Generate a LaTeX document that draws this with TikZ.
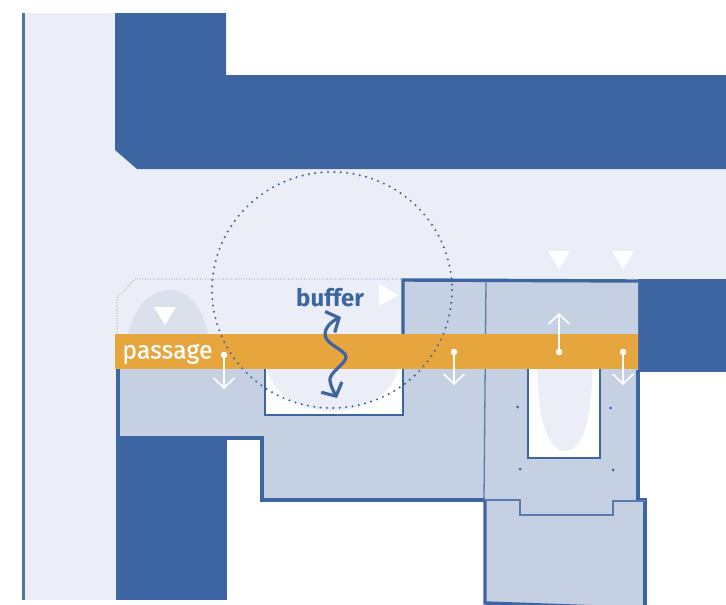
\documentclass[tikz,border=0pt]{standalone}
\usepackage{fontspec}
\setmainfont{Fira Sans}
\newfontfamily\planfont[FakeBold=0.35]{Fira Sans}
\usetikzlibrary{arrows.meta}
\definecolor{planblue}{RGB}{60,101,162}
\definecolor{planpale}{RGB}{235,238,247}
\definecolor{planmid}{RGB}{197,208,226}
\definecolor{planhump}{RGB}{218,225,236}
\definecolor{planorange}{RGB}{230,165,61}
\tikzset{
  street/.style={fill=planpale, draw=none},
  block/.style={fill=planblue, draw=none},
  house/.style={fill=planmid, draw=none},
  court/.style={fill=white, draw=planblue, line width=1.3pt},
  wall/.style={draw=planblue, line width=3.4pt, line join=miter},
  thinwall/.style={draw=planblue!85, line width=1.3pt},
  plot/.style={draw=planblue, line width=0.8pt, dash pattern=on 0pt off 2.6pt, line cap=round},
  reach/.style={draw=planblue, line width=2.3pt, dash pattern=on 0pt off 6.4pt, line cap=round},
  tinydot/.style={circle, fill=planblue, inner sep=0pt, minimum size=3pt},
  whitedot/.style={circle, fill=white, inner sep=0pt, minimum size=6.5pt},
  marker/.style={fill=white, draw=none},
  flow/.style={white, line width=1.6pt, -{Straight Barb[length=10pt, width=21pt, line width=1.6pt]}},
  wobble/.style={planblue, line width=3.2pt, {Straight Barb[length=10pt, width=23pt]}-{Straight Barb[length=10pt, width=23pt]}},
}
\begin{document}
\begin{tikzpicture}[x=1pt, y=-1pt]
  \useasboundingbox (0,0) rectangle (726,605);
  % street and solid blocks
  \fill[street] (23,13) -- (115,13) -- (115,150) -- (137,169) -- (726,169) -- (726,279) -- (403,279)
     -- (403,369) -- (116,369) -- (116,600) -- (23,600) -- cycle;
  \draw[draw=planblue!90, line width=3pt] (23,13) -- (23,600);
  \fill[block] (115,13) -- (226,13) -- (226,75) -- (726,75) -- (726,169) -- (137,169) -- (115,150) -- cycle;
  \fill[block] (638,279) -- (726,279) -- (726,372) -- (638,372) -- cycle;
  \fill[block] (116,437) -- (227,437) -- (227,600) -- (116,600) -- cycle;
  % house
  \fill[house] (118,369) -- (118,437) -- (262,437) -- (262,500) -- (485,500) -- (485,605) -- (645,605)
     -- (645,500) -- (638,500) -- (638,281) -- (403,280) -- (403,369) -- cycle;
  \fill[planhump] (128,334) .. controls (136,304) and (152,290) .. (170,290)
     .. controls (188,290) and (202,306) .. (208,334) -- cycle;
  \draw[court] (265,369) -- (265,415) -- (403,415) -- (403,369);
  \fill[planpale] (267,369) .. controls (274,398) and (305,411) .. (332,411)
     .. controls (362,411) and (392,396) .. (398,369) -- cycle;
  \draw[court] (528,369) -- (528,458) -- (600,458) -- (600,369);
  \fill[white] (529,369) rectangle (599,457);
  \fill[planpale] (537,369) .. controls (538,420) and (548,451) .. (565,451)
     .. controls (582,451) and (592,420) .. (592,369) -- cycle;
  % walls
  \draw[wall] (403,335) -- (403,280) -- (638,281);
  \draw[wall] (118,369) -- (118,438) -- (262,438) -- (262,500) -- (485,500);
  \draw[wall] (638,370) -- (638,500) -- (645,500) -- (645,605);
  \draw[wall] (485,500) -- (485,603) -- (600,607);
  \draw[thinwall] (486,281) -- (484,500);
  \draw[thinwall] (485,500) -- (520,500) -- (520,515) -- (613,515) -- (613,501) -- (645,501);
  \draw[plot] (117,334) -- (117,298) -- (135,279) -- (403,279);
  \node[tinydot] (p1) at (517.5,407) {};
  \node[tinydot] (p2) at (610.5,408) {};
  \node[tinydot] (p3) at (520,469) {};
  \node[tinydot] (p4) at (613,470) {};
  % passage
  \fill[planorange] (115,334) rectangle (638,369);
  \node[anchor=base west, white, font=\planfont\fontsize{25}{25}\selectfont, inner sep=0pt] (passage) at (122,358.5) {passage};
  \draw[reach] (332,290) ellipse (120 and 118);
  \node[anchor=base west, planblue, font=\fontsize{24}{24}\selectfont\bfseries, inner sep=0pt] (buffer) at (296,306) {buffer};
  % markers
  \fill[marker] (154,307) -- (176,307) -- (165,325) -- cycle;
  \fill[marker] (379,284) -- (398,295) -- (379,306) -- cycle;
  \fill[marker] (548,251) -- (570,251) -- (559,269) -- cycle;
  \fill[marker] (612,251) -- (634,251) -- (623,269) -- cycle;
  % flows
  \node[whitedot] (d1) at (224,355) {};
  \node[whitedot] (d2) at (454,352) {};
  \node[whitedot] (d3) at (559,352) {};
  \node[whitedot] (d4) at (623,352) {};
  \coordinate (t1) at (224,389);
  \coordinate (t2) at (454,385);
  \coordinate (t3) at (559,313);
  \coordinate (t4) at (623,385);
  \draw[flow] (d1) -- (t1);
  \draw[flow] (d2) -- (t2);
  \draw[flow] (d3) -- (t3);
  \draw[flow] (d4) -- (t4);
  \coordinate (w1) at (341,317);
  \coordinate (w2) at (337,398);
  \draw[wobble] (w1) .. controls (330,322) and (320,332) .. (328,341)
     .. controls (334,347) and (346,352) .. (346,357)
     .. controls (346,364) and (328,373) .. (330,381) .. controls (331,387) and (334,392) .. (w2);
\end{tikzpicture}
\end{document}
